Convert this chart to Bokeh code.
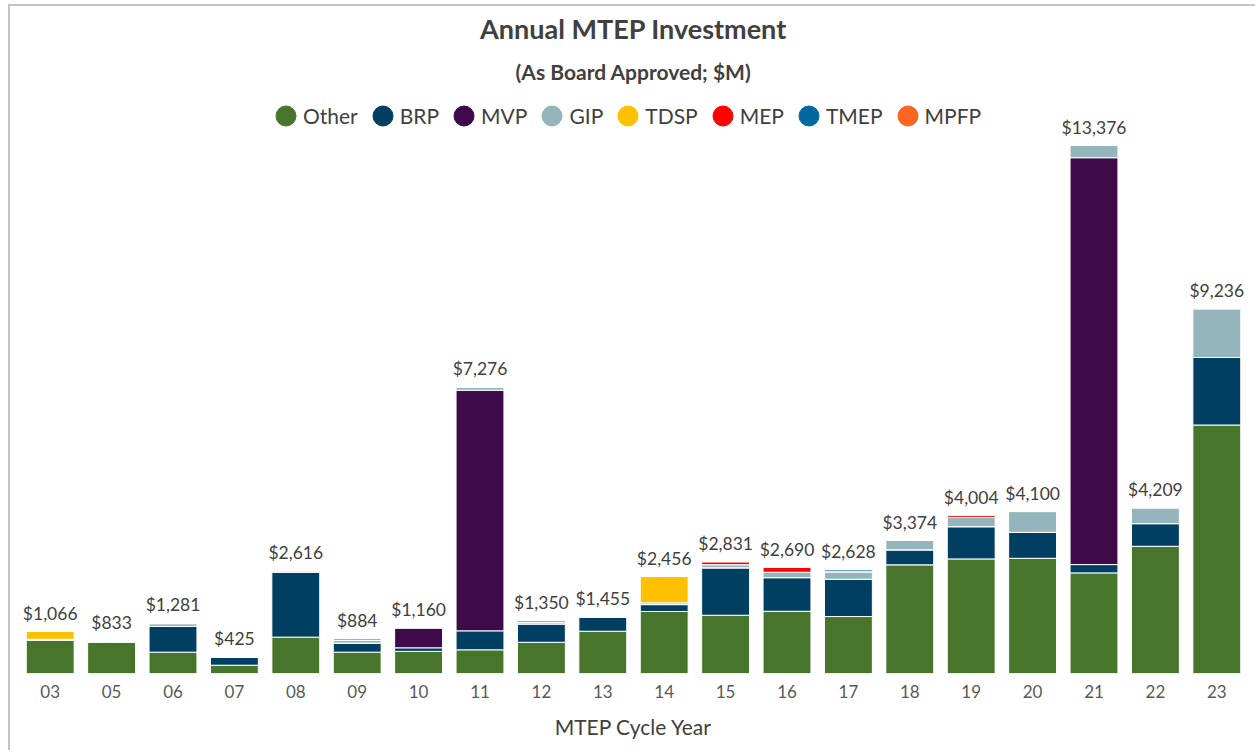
from bokeh.plotting import figure
from bokeh.models import ColumnDataSource, Legend, LegendItem, Title
from bokeh.core.properties import value
from bokeh.embed import file_html
from bokeh.resources import INLINE

years = ["03", "05", "06", "07", "08", "09", "10", "11", "12", "13",
         "14", "15", "16", "17", "18", "19", "20", "21", "22", "23"]
series = ["Other", "BRP", "MVP", "GIP", "TDSP", "MEP", "TMEP", "MPFP"]
colors = ["#48752C", "#003F62", "#3F0A49", "#93B5BB", "#FFC000", "#FF0000", "#00689F", "#FF6422"]

other = [840, 800, 540, 210, 920, 540, 560, 600, 790, 1070, 1570, 1475, 1575, 1442, 2750, 2900, 2916, 2547, 3220, 6290]
brp   = [26, 0, 650, 195, 1645, 230, 90, 480, 465, 355, 175, 1200, 852, 944, 380, 817, 658, 210, 574, 1710]
mvp   = [0, 0, 0, 0, 0, 0, 510, 6090, 0, 0, 0, 0, 0, 0, 0, 0, 0, 10299, 0, 0]
gip   = [0, 13, 70, 20, 30, 75, 0, 75, 50, 30, 45, 80, 135, 190, 244, 235, 526, 320, 400, 1236]
tdsp  = [200, 20, 21, 0, 21, 0, 0, 31, 0, 0, 666, 0, 0, 0, 0, 0, 0, 0, 0, 0]
mep   = [0, 0, 0, 0, 0, 39, 0, 0, 45, 0, 0, 76, 128, 0, 0, 52, 0, 0, 15, 0]
tmep  = [0, 0, 0, 0, 0, 0, 0, 0, 0, 0, 0, 0, 0, 52, 0, 0, 0, 0, 0, 0]
mpfp  = [0, 0, 0, 0, 0, 0, 0, 0, 0, 0, 0, 0, 0, 0, 0, 0, 0, 0, 0, 0]

data = {"year": years, "Other": other, "BRP": brp, "MVP": mvp, "GIP": gip,
        "TDSP": tdsp, "MEP": mep, "TMEP": tmep, "MPFP": mpfp}
totals = [sum(v) for v in zip(other, brp, mvp, gip, tdsp, mep, tmep, mpfp)]
data["total"] = totals
data["label"] = ["${:,}".format(t) for t in totals]
src = ColumnDataSource(data)

FONT = "Lato"
TXT = "#404040"

p = figure(x_range=years, y_range=(0, 14707), width=1247, height=746,
           output_backend="svg", toolbar_location=None,
           min_border_left=9, min_border_right=10, min_border_top=85, min_border_bottom=79)
p.styles = {"margin-left": "8px", "margin-top": "4px",
            "border-left": "2px solid #c4c4c4", "border-top": "2px solid #c4c4c4"}
p.title = None
p.add_layout(Title(text="(As Board Approved; $M)", align="center", text_font=FONT,
                   text_font_size="21px", text_font_style="bold", text_color=TXT,
                   standoff=18), "above")
p.add_layout(Title(text="Annual MTEP Investment", align="center", text_font=FONT,
                   text_font_size="27px", text_font_style="bold", text_color=TXT,
                   standoff=6), "above")

p.vbar_stack(series, x="year", width=0.78, color=colors, source=src,
             line_color="white", line_width=1)

p.text(x="year", y="total", text="label", source=src, text_align="center",
       text_baseline="alphabetic", y_offset=-18, text_font=value(FONT),
       text_font_size="17.5px", text_color=TXT)

items = []
for s, c in zip(series, colors):
    r = p.ellipse(x=[years[0]], y=[float("nan")], width=20, height=20,
                  width_units="screen", height_units="screen",
                  fill_color=c, line_color=c)
    items.append(LegendItem(label=s, renderers=[r]))
legend = Legend(items=items, location=(254, 545), orientation="horizontal",
                glyph_width=25, glyph_height=25, label_standoff=5, spacing=12,
                padding=0, margin=0, background_fill_alpha=0, border_line_alpha=0,
                label_text_font=FONT, label_text_font_size="21px", label_text_color=TXT)
p.add_layout(legend, "center")

p.xgrid.visible = False
p.ygrid.visible = False
p.yaxis.visible = False
p.outline_line_color = None
p.x_range.range_padding = 0
p.xaxis.axis_line_color = None
p.xaxis.major_tick_line_color = None
p.xaxis.minor_tick_line_color = None
p.xaxis.major_label_text_font = FONT
p.xaxis.major_label_text_font_size = "17px"
p.xaxis.major_label_text_color = "#595959"
p.xaxis.major_label_standoff = 5
p.xaxis.axis_label = "MTEP Cycle Year"
p.xaxis.axis_label_text_font = FONT
p.xaxis.axis_label_text_font_size = "21px"
p.xaxis.axis_label_text_font_style = "normal"
p.xaxis.axis_label_text_color = TXT
p.xaxis.axis_label_standoff = 13

open("out.html", "w").write(file_html(p, INLINE))
